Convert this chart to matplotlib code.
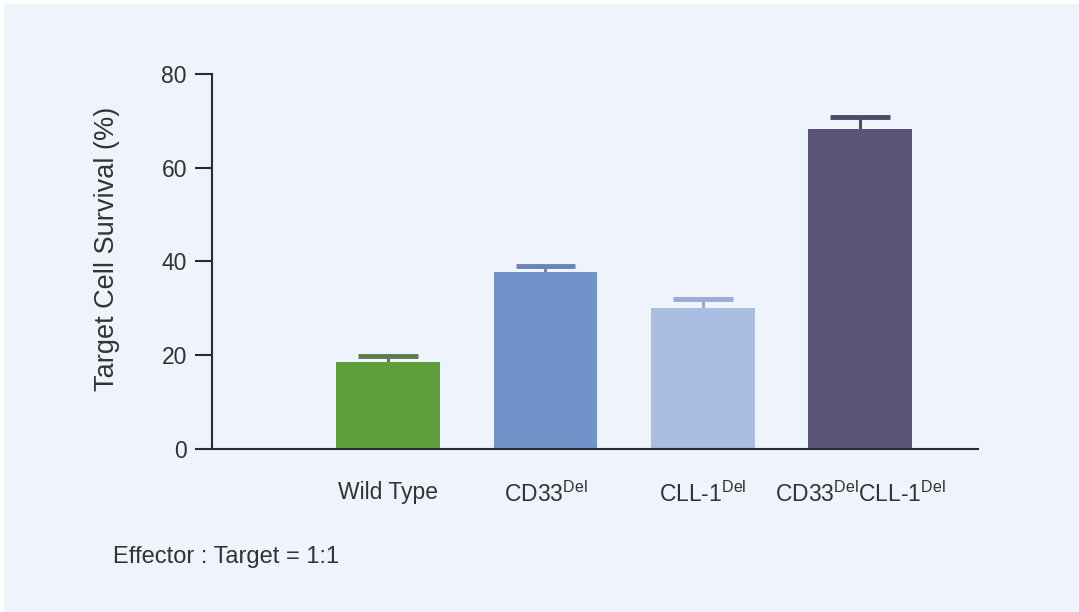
import matplotlib
matplotlib.use("Agg")
import matplotlib.pyplot as plt
from matplotlib.patches import Rectangle

plt.rcParams['font.family'] = ['Liberation Sans', 'DejaVu Sans']
plt.rcParams['mathtext.fontset'] = 'custom'
plt.rcParams['mathtext.rm'] = 'Liberation Sans'

groups = ["Wild Type", "CD33$^{\\mathrm{Del}}$", "CLL-1$^{\\mathrm{Del}}$",
          "CD33$^{\\mathrm{Del}}$CLL-1$^{\\mathrm{Del}}$"]
survival = [18.6, 37.7, 30.1, 68.2]
sem = [1.2, 1.3, 1.9, 2.6]
bar_colors = ["#5f9e3b", "#7293c9", "#abbde0", "#5b5478"]
cap_colors = ["#5b7d4b", "#6a84b6", "#98acd4", "#4f4869"]
y_ticks = [0, 20, 40, 60, 80]

bg = "#eff3fb"
fig = plt.figure(figsize=(10.79, 6.12), dpi=100, facecolor="white")
fig.patches.append(Rectangle((4 / 1079, 0), 1, 1 - 4 / 612, transform=fig.transFigure,
                             facecolor=bg, edgecolor="none", zorder=-10))

ax = fig.add_axes([212 / 1079, 1 - 449 / 612, 766 / 1079, 375 / 612])
ax.set_facecolor("none")

xs = list(range(len(groups)))
cap_half = 0.19
for i in xs:
    top = survival[i] + sem[i]
    # upper error only: stem from bar top to cap
    ax.vlines(i, survival[i], top, color=cap_colors[i], linewidth=2.2, zorder=1)
    ax.hlines(top, i - cap_half, i + cap_half, color=cap_colors[i], linewidth=3.5, zorder=1)
    ax.bar(i, survival[i], width=0.66, color=bar_colors[i], zorder=2)

ax.set_xlim(-1.12, 3.75)
ax.set_ylim(0, 80)
ax.set_yticks(y_ticks)
ax.set_xticks(xs)
ax.set_xticklabels(groups)

for side in ["top", "right"]:
    ax.spines[side].set_visible(False)
for side in ["left", "bottom"]:
    ax.spines[side].set_color("#2b2b2b")
    ax.spines[side].set_linewidth(1.5)

ax.tick_params(axis="y", length=12, width=1.5, color="#2b2b2b", pad=6,
               labelsize=16.5, labelcolor="#333333")
ax.tick_params(axis="x", length=0, pad=23, labelsize=16.5, labelcolor="#333333")

fig.text(107 / 1079, 1 - 249 / 612, "Target Cell Survival (%)", rotation=90, ha="center",
         va="center", fontsize=19.5, color="#333333")
fig.text(113 / 1079, 1 - 557 / 612, "Effector : Target = 1:1", ha="left", va="center",
         fontsize=17, color="#333333")

fig.savefig("out.png", dpi=100, facecolor=fig.get_facecolor())
